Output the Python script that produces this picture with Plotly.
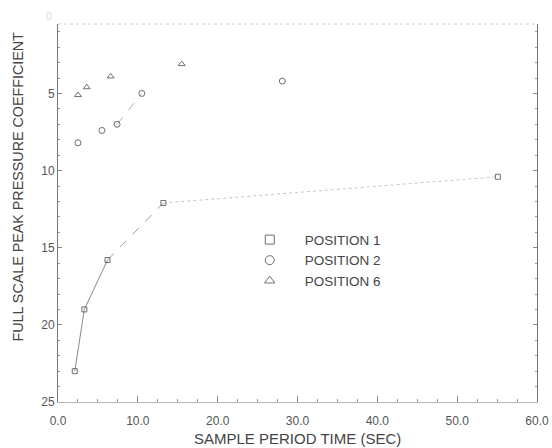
import plotly.graph_objects as go

# Data
pos1_x = [2.1, 3.3, 6.2, 13.2, 55.1]
pos1_y = [23.0, 19.0, 15.8, 12.1, 10.4]

pos2_x = [2.5, 5.5, 7.4, 10.5, 28.1]
pos2_y = [8.2, 7.4, 7.0, 5.0, 4.2]

pos6_x = [2.5, 3.6, 6.6, 15.5]
pos6_y = [5.1, 4.6, 3.9, 3.1]

x_ticks = [0, 10, 20, 30, 40, 50, 60]
x_tick_labels = ["0.0", "10.0", "20.0", "30.0", "40.0", "50.0", "60.0"]
y_ticks = [5, 10, 15, 20, 25]
y_tick_labels = ["5", "10", "15", "20", "25"]

LINE = "#8a8a8a"
MARK = "#6e6e6e"
TEXT = "#555555"
FONT = "Liberation Sans, Arial, sans-serif"

fig = go.Figure()

# Position 1 line pieces: solid, dashed, dotted
fig.add_trace(go.Scatter(x=pos1_x[0:3], y=pos1_y[0:3], mode="lines",
                         line=dict(color=LINE, width=1), showlegend=False, hoverinfo="skip"))
fig.add_trace(go.Scatter(x=pos1_x[2:4], y=pos1_y[2:4], mode="lines",
                         line=dict(color="#a0a0a0", width=1, dash="dash"), showlegend=False, hoverinfo="skip"))
fig.add_trace(go.Scatter(x=pos1_x[3:5], y=pos1_y[3:5], mode="lines",
                         line=dict(color="#c8c8c8", width=1, dash="dot"), showlegend=False, hoverinfo="skip"))
# Position 2 short dashed piece
fig.add_trace(go.Scatter(x=pos2_x[2:4], y=pos2_y[2:4], mode="lines",
                         line=dict(color="#b0b0b0", width=1, dash="dash"), showlegend=False, hoverinfo="skip"))

# markers
fig.add_trace(go.Scatter(x=pos1_x, y=pos1_y, mode="markers", name="POSITION 1",
                         marker=dict(symbol="square-open", size=5, color=MARK, line=dict(width=1)),
                         showlegend=False))
fig.add_trace(go.Scatter(x=pos2_x, y=pos2_y, mode="markers", name="POSITION 2",
                         marker=dict(symbol="circle-open", size=6, color=MARK, line=dict(width=1)),
                         showlegend=False))
fig.add_trace(go.Scatter(x=pos6_x, y=pos6_y, mode="markers", name="POSITION 6",
                         marker=dict(symbol="triangle-up-open", size=6, color=MARK, line=dict(width=1)),
                         showlegend=False))

# legend entries
for name, sym in [("POSITION 1", "square-open"), ("POSITION 2", "circle-open"), ("POSITION 6", "triangle-up-open")]:
    fig.add_trace(go.Scatter(x=[None], y=[None], mode="markers", name=name,
                             marker=dict(symbol=sym, size=9, color=MARK, line=dict(width=1))))

fig.update_layout(
    width=552, height=448,
    margin=dict(l=58, r=15, t=24, b=46),
    paper_bgcolor="white", plot_bgcolor="white",
    font=dict(family=FONT, color=TEXT, size=12),
    legend=dict(x=0.369, y=0.47, xanchor="left", yanchor="top",
                font=dict(size=13.5, color="#444444"), itemwidth=60,
                bgcolor="rgba(0,0,0,0)", tracegroupgap=0),
)
fig.update_xaxes(
    range=[0, 60], tickvals=x_ticks, ticktext=x_tick_labels, automargin=False,
    showgrid=False, zeroline=False, showline=True, linecolor="#b5b5b5", linewidth=1,
    ticks="inside", ticklen=6, tickcolor="#888888", ticklabelstandoff=8,
    minor=dict(dtick=2.5, ticks="inside", ticklen=3, tickcolor="#999999"),
    tickfont=dict(size=12, color=TEXT),
)
fig.update_yaxes(
    range=[25, 0.5], tickvals=y_ticks, ticktext=y_tick_labels, automargin=False,
    showgrid=False, zeroline=False, showline=True, linecolor="#777777", linewidth=1,
    mirror="ticks", ticks="inside", ticklen=4, tickcolor="#888888",
    minor=dict(dtick=1, ticks="inside", ticklen=2, tickcolor="#999999"),
    tickfont=dict(size=12, color=TEXT),
)
# axis titles as annotations for exact placement
fig.add_annotation(text="SAMPLE PERIOD TIME (SEC)", xref="paper", yref="paper",
                   x=0.5, y=0, yshift=-36, xanchor="center", yanchor="middle",
                   showarrow=False, font=dict(size=15, color="#444444"))
fig.add_annotation(text="FULL SCALE PEAK PRESSURE COEFFICIENT", xref="paper", yref="paper",
                   x=0, xshift=-40, y=0.57, textangle=-90, xanchor="center", yanchor="middle",
                   showarrow=False, font=dict(size=14.3, color="#444444"))
# faint dotted top border
fig.add_shape(type="line", xref="paper", yref="paper", x0=0, x1=1, y0=1, y1=1,
              line=dict(color="#d0d0d0", width=1, dash="dot"))
fig.add_annotation(text="0", xref="paper", yref="y", x=0, y=0.5, xanchor="right", xshift=-4, yshift=8,
                   showarrow=False, font=dict(size=10, color="#d8d8d8"))

# remove the default page margin so the 552x448 figure fills the window exactly
fig.write_html("out.html", config={"displayModeBar": False},
               post_script="document.body.style.margin='0';document.body.style.overflow='hidden';")
